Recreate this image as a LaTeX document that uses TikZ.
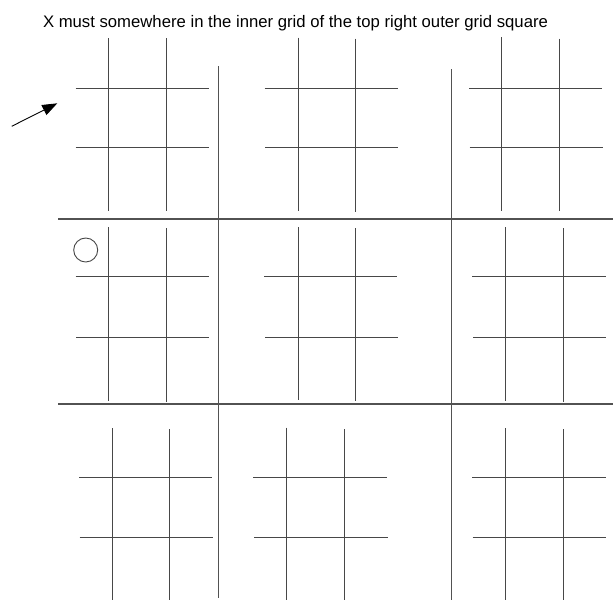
\documentclass[tikz,border=0pt]{standalone}
\usepackage{fontspec}
\setmainfont{Liberation Sans}
\usepackage{tikz}
\usetikzlibrary{arrows.meta,shapes.geometric}

\begin{document}
\begin{tikzpicture}[x=1pt, y=-1pt,
  innerline/.style={draw=black!72, line width=0.9pt},
  outerline/.style={draw=black!68, line width=1.1pt}]
  \useasboundingbox (0,0) rectangle (613,600);

  % Caption
  \node[font=\fontsize{16.7}{20}\selectfont, anchor=base, inner sep=0pt] (caption) at (295.5, 27) {X must somewhere in the inner grid of the top right outer grid square};

  % Outer grid
  \draw[outerline] (218.5, 66) -- (218.5, 598);
  \draw[outerline] (451.3, 69) -- (451.3, 600);
  \draw[outerline] (58, 219) -- (613, 219);
  \draw[outerline] (58, 404) -- (613, 404);

  % Top row
  \draw[innerline] (108, 38) -- (108, 211) (166, 38) -- (166, 211)
                   (75.5, 88) -- (209, 88) (75.5, 147.7) -- (209, 147.7);
  \draw[innerline] (298, 37.5) -- (298, 211) (355.7, 38.5) -- (355.7, 211.5)
                   (264.5, 88) -- (398, 88) (265, 147.7) -- (398, 147.7);
  \draw[innerline] (501.3, 37) -- (501.3, 211) (559.3, 38.5) -- (559.3, 211)
                   (469, 88) -- (602, 88) (469.5, 147.7) -- (602.5, 147.7);

  % Middle row
  \draw[innerline] (108, 227) -- (108, 400.5) (166, 228) -- (166, 401.5)
                   (75.5, 276.7) -- (208.5, 276.7) (76, 337) -- (209, 337);
  \draw[innerline] (298.3, 227.3) -- (298.3, 400) (355.7, 228) -- (355.7, 401)
                   (264.3, 276.5) -- (397.3, 276.5) (265.3, 337.3) -- (398.3, 337.3);
  \draw[innerline] (505.3, 227) -- (505.3, 400.5) (563, 228) -- (563, 401.5)
                   (472, 276.7) -- (605.5, 276.7) (473, 337) -- (606, 337);

  % Bottom row
  \draw[innerline] (112.2, 428) -- (112.2, 600) (169.7, 429) -- (169.7, 600)
                   (79, 477.7) -- (212, 477.7) (79.7, 537.3) -- (213, 537.3);
  \draw[innerline] (286.7, 427.7) -- (286.7, 600) (344.3, 429) -- (344.3, 600)
                   (253.3, 477.7) -- (386.7, 477.7) (254.3, 537.3) -- (387.7, 537.3);
  \draw[innerline] (505.5, 428) -- (505.5, 600) (563.3, 429) -- (563.3, 600)
                   (472, 477.7) -- (605.6, 477.7) (472.5, 537.3) -- (606, 537.3);

  % Marker and pointer
  \node[circle, draw=black!72, line width=0.9pt, minimum size=24pt, inner sep=0pt] (omark) at (85.7, 250) {};
  \coordinate (ptail) at (11.7, 126.3);
  \coordinate (ptip) at (57.3, 103.3);
  \draw[line width=0.9pt, -{Triangle[length=15pt, width=11pt]}] (ptail) -- (ptip);
\end{tikzpicture}
\end{document}
